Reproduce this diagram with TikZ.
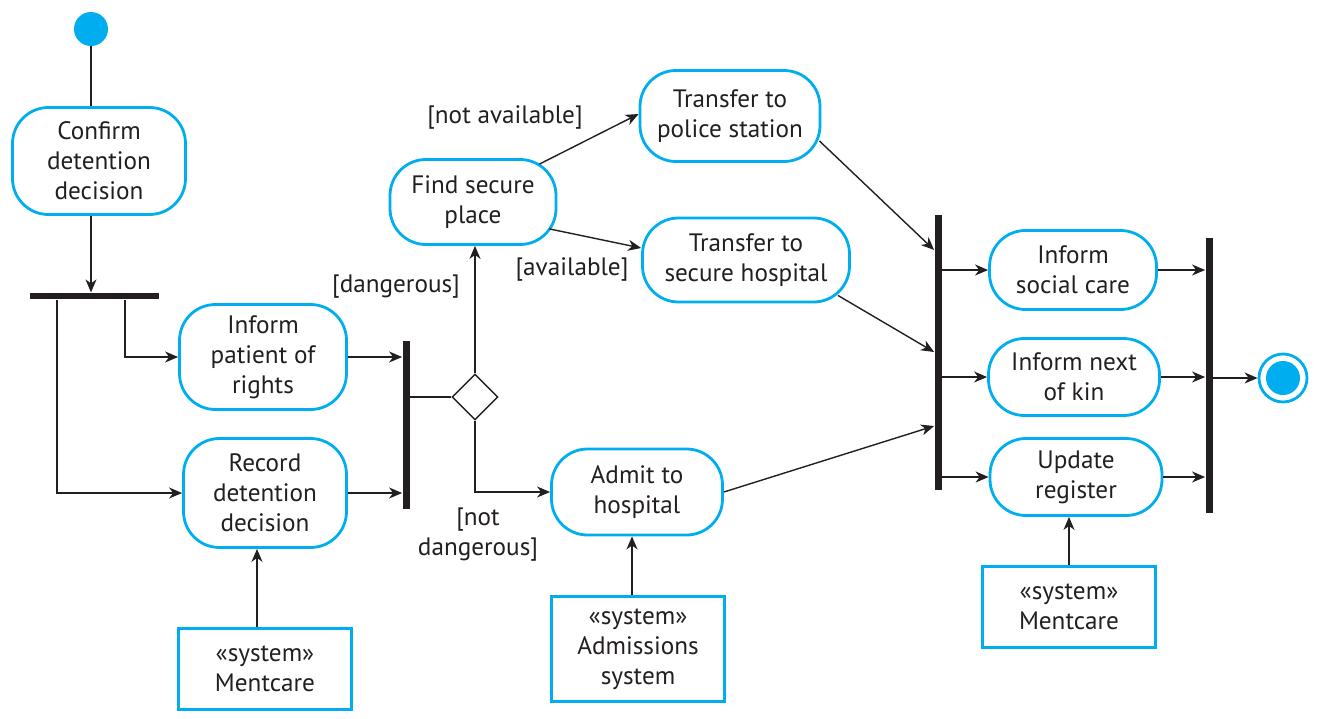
\documentclass[tikz,border=0pt]{standalone}
\usepackage{fontspec}
\setmainfont{PT Sans}
\usetikzlibrary{arrows.meta,shapes.geometric,positioning}
\definecolor{umlblue}{HTML}{00AEEF}
\definecolor{ink}{HTML}{231F20}
\tikzset{
	activity/.style={draw=umlblue,line width=1.4pt,rounded corners=18pt,align=center,text=ink,inner sep=0pt},
	sysbox/.style={draw=umlblue,line width=1.4pt,align=center,text=ink,inner sep=0pt,minimum width=86.5pt},
	bar/.style={fill=ink,inner sep=0pt},
	flow/.style={line width=0.7pt,draw=ink,-{Stealth[length=6.5pt,width=5.5pt,inset=2pt]}},
	guard/.style={text=ink,align=center,inner sep=0pt}
}
\begin{document}
\begin{tikzpicture}[x=0.5pt,y=-0.5pt,font=\fontsize{12.6}{15}\selectfont]
		\useasboundingbox (0,0) rectangle (1317,718);
		% start and end
		\node[circle,fill=umlblue,minimum size=17pt,inner sep=0pt] (start) at (91,29) {};
		\node[circle,draw=umlblue,line width=1.4pt,minimum size=24pt,inner sep=0pt,
			path picture={\fill[umlblue] (path picture bounding box.center) circle (8.5pt);}] (end) at (1283,378) {};
		% activities
		\node[activity,minimum width=86.5pt,minimum height=53.5pt] (confirm) at (99,161) {Confirm\\detention\\decision};
		\node[activity,minimum width=83.5pt,minimum height=52.5pt] (inform) at (263,357) {Inform\\patient of\\rights};
		\node[activity,minimum width=81.5pt,minimum height=54.5pt] (record) at (265,493) {Record\\detention\\decision};
		\node[activity,minimum width=83pt,minimum height=42.5pt] (find) at (473,202) {Find secure\\place};
		\node[activity,minimum width=90pt,minimum height=45.5pt] (police) at (730,116) {Transfer to\\police station};
		\node[activity,minimum width=103.5pt,minimum height=42pt] (secure) at (746,260) {Transfer to\\secure hospital};
		\node[activity,minimum width=85.5pt,minimum height=43pt] (admit) at (637,492) {Admit to\\hospital};
		\node[activity,minimum width=83.5pt,minimum height=39.5pt] (social) at (1073,270) {Inform\\social care};
		\node[activity,minimum width=85.5pt,minimum height=38.5pt] (kin) at (1074,377) {Inform next\\of kin};
		\node[activity,minimum width=86pt,minimum height=38.5pt] (register) at (1076,477) {Update\\register};
		% systems
		\node[sysbox,minimum height=40.5pt] (mentcareA) at (265,669) {«system»\\Mentcare};
		\node[sysbox,minimum height=52.5pt] (admissions) at (638,649) {«system»\\Admissions\\system};
		\node[sysbox,minimum height=40.5pt] (mentcareB) at (1069,607) {«system»\\Mentcare};
		% fork, joins and decision
		\node[bar,minimum width=64.5pt,minimum height=3.2pt] (fork) at (94.5,296) {};
		\node[bar,minimum width=3.5pt,minimum height=84pt] (joinA) at (406,425) {};
		\node[bar,minimum width=3.5pt,minimum height=137.5pt] (joinB) at (938,352) {};
		\node[bar,minimum width=3.5pt,minimum height=137.5pt] (joinC) at (1209,375) {};
		\node[diamond,draw=ink,line width=0.7pt,minimum width=23pt,minimum height=23pt,inner sep=0pt] (dec) at (475,397) {};
		% guards
		\node[guard] (gDanger) at (396,287) {[dangerous]};
		\node[guard] (gNotDanger) at (478,535) {[not\\dangerous]};
		\node[guard] (gNotAvail) at (505,117) {[not available]};
		\node[guard] (gAvail) at (572,269) {[available]};
		% flows
		\draw[line width=0.7pt,draw=ink] (start) -- (start |- confirm.north);
		\draw[flow] (start |- confirm.south) -- (start |- fork.north);
		\draw[flow] ([xshift=15.25pt]fork.south) |- (inform.west);
		\draw[flow] ([xshift=-18.75pt]fork.south) |- (record.west);
		\draw[flow] (inform.east) -- (inform.east -| joinA.west);
		\draw[flow] (record.east) -- (record.east -| joinA.west);
		\draw[line width=0.7pt,draw=ink] (joinA.east |- dec.west) -- (dec.west);
		\draw[flow] (dec.north) -- (dec.north |- find.south);
		\draw[flow] (dec.south) |- (admit.west);
		\draw[flow] ([xshift=-9pt,yshift=-3pt]find.north east) -- ([yshift=1pt]police.west);
		\draw[flow] ([xshift=-4pt,yshift=8.5pt]find.south east) -- ([yshift=6pt]secure.west);
		\draw[flow] ([xshift=-1pt,yshift=11pt]police.south east) -- ([yshift=51pt]joinB.west);
		\draw[flow] ([xshift=-6.5pt,yshift=4pt]secure.south east) -- (joinB.west);
		\draw[flow] (admit.east) -- ([yshift=-37pt]joinB.west);
		\foreach \n in {social,kin,register} {
			\draw[flow] (joinB.east |- \n.west) -- (\n.west);
			\draw[flow] (\n.east) -- (\n.east -| joinC.west);
		}
		\draw[flow] (joinC.east |- end.west) -- (end.west);
		% system inputs
		\draw[flow] ([xshift=-4pt]mentcareA.north) -- ([xshift=-4pt]mentcareA.north |- record.south);
		\draw[flow] ([xshift=-3pt]admissions.north) -- ([xshift=-3pt]admissions.north |- admit.south);
		\draw[flow] (mentcareB.north) -- (mentcareB.north |- register.south);
\end{tikzpicture}
\end{document}
